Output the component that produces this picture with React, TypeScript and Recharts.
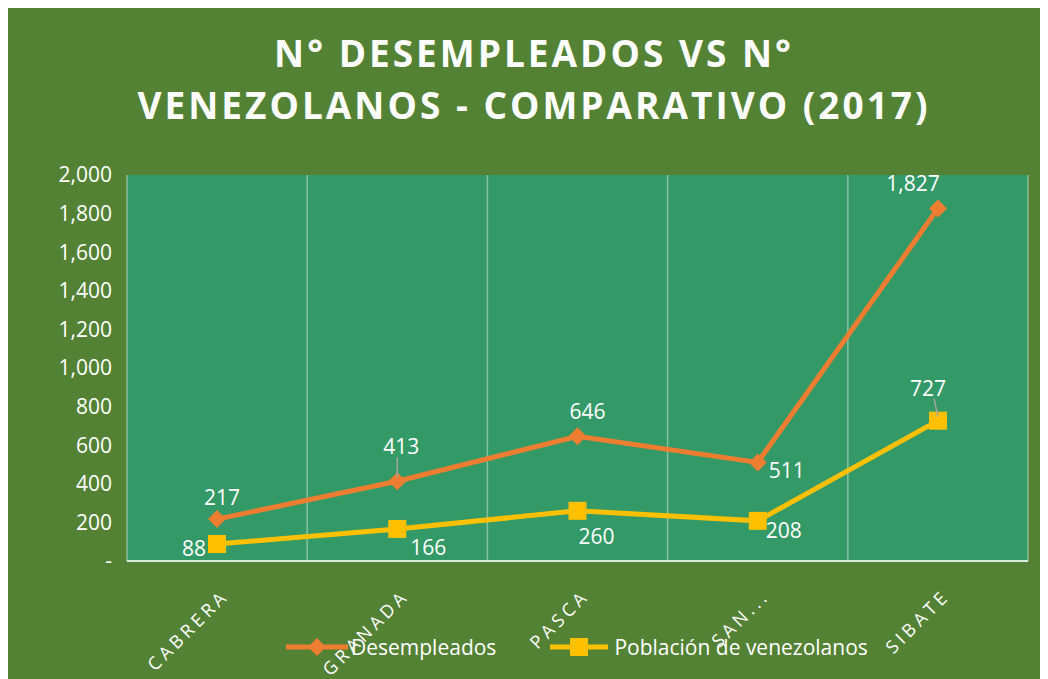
import { LineChart, Line, XAxis, YAxis, CartesianGrid } from 'recharts';

const categories = ['CABRERA', 'GRANADA', 'PASCA', 'SAN...', 'SIBATE'];
const desempleados = [217, 413, 646, 511, 1827];
const poblacion = [88, 166, 260, 208, 727];
const yTicks = [0, 200, 400, 600, 800, 1000, 1200, 1400, 1600, 1800, 2000];

const data = categories.map((name, i) => ({
  name,
  desempleados: desempleados[i],
  poblacion: poblacion[i],
}));

// label offsets from each point, like Excel's hand-moved data labels
const labelPosD = [
  { dx: 5, dy: -22, lead: false },
  { dx: 4, dy: -35, lead: true },
  { dx: 10, dy: -25, lead: false },
  { dx: 29, dy: 8, lead: false },
  { dx: -25, dy: -25, lead: false },
];
const labelPosP = [
  { dx: -23, dy: 4, lead: false },
  { dx: 31, dy: 18, lead: false },
  { dx: 19, dy: 25, lead: false },
  { dx: 26, dy: 9, lead: false },
  { dx: -10, dy: -33, lead: true },
];

const FONT = '"Open Sans", sans-serif';
const ORANGE = '#ED7D31';
const YELLOW = '#FFC000';

const fmt = (v: number) => (v === 0 ? '-' : v.toLocaleString('en-US'));

const makeLabel = (pos: typeof labelPosD) => (p: any) => {
  const { x, y, index, value } = p;
  const o = pos[index];
  const lx = x + o.dx;
  const ly = y + o.dy;
  return (
    <g key={`lbl-${index}`}>
      {o.lead && (
        <line x1={x} y1={y - 4} x2={x + (o.dx > 0 ? 0 : -4)} y2={ly + 11} stroke="#a6a6a6" strokeWidth={1.5} />
      )}
      <text x={lx} y={ly} textAnchor="middle" dominantBaseline="central" fill="#fff" fontSize={21} fontFamily={FONT}>
        {fmt(value)}
      </text>
    </g>
  );
};

const Diamond = (p: any) => {
  const { cx, cy, index } = p;
  const s = 9;
  return <path key={`d-${index}`} d={`M${cx},${cy - s}L${cx + s},${cy}L${cx},${cy + s}L${cx - s},${cy}Z`} fill={ORANGE} />;
};

const Square = (p: any) => {
  const { cx, cy, index } = p;
  const s = 9;
  return <rect key={`s-${index}`} x={cx - s} y={cy - s} width={s * 2} height={s * 2} fill={YELLOW} />;
};

const XTick = (p: any) => {
  const { x, y, payload } = p;
  return (
    <text
      transform={`translate(${x + 13},${y + 28}) rotate(-45)`}
      textAnchor="end"
      fill="#fff"
      fontSize={18}
      fontFamily={FONT}
      letterSpacing={4}
    >
      {payload.value}
    </text>
  );
};

export default function App() {
  return (
    <div style={{ position: 'relative', width: 1040, height: 671, background: '#548235', fontFamily: FONT }}>
      <div
        style={{
          position: 'absolute',
          top: 19,
          left: 6,
          width: 1040,
          textAlign: 'center',
          color: '#fff',
          fontWeight: 700,
          fontSize: 37,
          letterSpacing: 3,
          lineHeight: '52px',
        }}
      >
        N° DESEMPLEADOS VS N°
        <br />
        VENEZOLANOS - COMPARATIVO (2017)
      </div>
      <LineChart width={1040} height={671} data={data} margin={{ top: 167, right: 20, bottom: 88, left: 0 }}>
        <CartesianGrid
          horizontal={false}
          fill="#339966"
          fillOpacity={1}
          stroke="rgba(255,255,255,0.4)"
          strokeWidth={1.5}
          verticalCoordinatesGenerator={({ offset }: any) =>
            categories.map((_, i) => offset.left + (i * offset.width) / categories.length).concat(offset.left + offset.width)
          }
        />
        <XAxis
          dataKey="name"
          height={30}
          padding={{ left: 90, right: 90 }}
          axisLine={{ stroke: '#d9eadf', strokeWidth: 2 }}
          tickLine={false}
          tick={<XTick />}
          interval={0}
        />
        <YAxis
          width={119}
          domain={[0, 2000]}
          ticks={yTicks}
          axisLine={false}
          tickLine={false}
          tickMargin={9}
          tickFormatter={fmt}
          tick={{ fill: '#fff', fontSize: 21, fontFamily: FONT }}
        />
        <Line
          dataKey="desempleados"
          stroke={ORANGE}
          strokeWidth={5}
          dot={Diamond}
          activeDot={false}
          label={makeLabel(labelPosD)}
          isAnimationActive={false}
        />
        <Line
          dataKey="poblacion"
          stroke={YELLOW}
          strokeWidth={5}
          dot={Square}
          activeDot={false}
          label={makeLabel(labelPosP)}
          isAnimationActive={false}
        />
      </LineChart>
      <div
        style={{
          position: 'absolute',
          top: 625,
          left: 278,
          display: 'flex',
          alignItems: 'center',
          color: '#fff',
          fontSize: 21,
          whiteSpace: 'nowrap',
        }}
      >
        <svg width={62} height={22}>
          <line x1={0} y1={11} x2={62} y2={11} stroke={ORANGE} strokeWidth={5} />
          <path d="M31,2L40,11L31,20L22,11Z" fill={ORANGE} />
        </svg>
        <span style={{ marginLeft: 3 }}>Desempleados</span>
        <svg width={58} height={22} style={{ marginLeft: 54 }}>
          <line x1={0} y1={11} x2={58} y2={11} stroke={YELLOW} strokeWidth={5} />
          <rect x={20} y={2} width={18} height={18} fill={YELLOW} />
        </svg>
        <span style={{ marginLeft: 6 }}>Población de venezolanos</span>
      </div>
    </div>
  );
}
